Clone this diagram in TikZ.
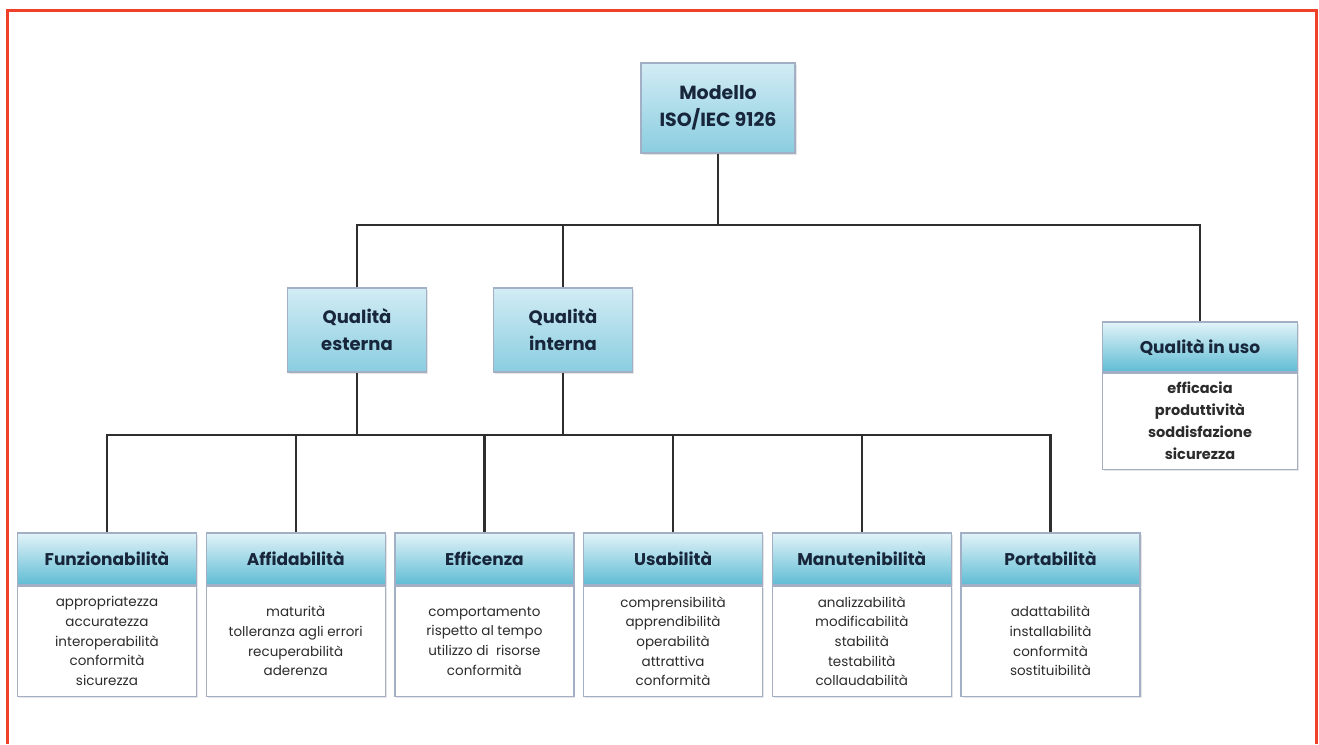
\documentclass[tikz,border=0pt]{standalone}
\usepackage{fontspec}
\setmainfont{Poppins}
\usetikzlibrary{positioning}
\usetikzlibrary{shadows}

\definecolor{frame}{HTML}{F0402A}
\definecolor{boxline}{HTML}{A3AFC4}
\definecolor{headtop}{HTML}{E2F3F8}
\definecolor{headbot}{HTML}{5FBCD4}
\definecolor{roottop}{HTML}{D2ECF4}
\definecolor{rootbot}{HTML}{8ACDE0}
\definecolor{headtxt}{HTML}{17263A}
\definecolor{bodytxt}{HTML}{2C2C2C}
\definecolor{treeline}{HTML}{2E2E2E}

\tikzset{
  boxshadow/.style={drop shadow={opacity=0.2, shadow xshift=1.5pt, shadow yshift=-1.5pt}},
  qbox/.style={draw=boxline, line width=1.2pt, top color=roottop, bottom color=rootbot,
    boxshadow, align=center, inner sep=0pt, text=headtxt,
    font=\bfseries\fontsize{18}{27}\selectfont},
  head/.style={draw=boxline, line width=1.2pt, top color=headtop, bottom color=headbot,
    boxshadow, minimum width=179pt, minimum height=52pt, inner sep=0pt, text=headtxt,
    font=\bfseries\fontsize{17}{20}\selectfont},
  body/.style={draw=boxline, line width=1.2pt, fill=white, boxshadow,
    minimum width=179pt, minimum height=110pt, inner sep=0pt, align=center,
    text=bodytxt, font=\fontsize{13.5}{19.7}\selectfont},
  tree/.style={draw=treeline, line width=2.2pt}
}

\begin{document}
\begin{tikzpicture}[x=1pt, y=-1pt]
    \useasboundingbox[fill=white] (0,0) rectangle (1319,744);
    \draw[frame, line width=3pt] (7,744) -- (7,10) -- (1316,10) -- (1316,744);

    % livelli superiori
    \node[qbox, minimum width=154pt, minimum height=90pt, font=\bfseries\fontsize{19}{27}\selectfont]
          (iso) at (718,108) {Modello\\ISO/IEC 9126};
    \node[qbox, minimum width=139pt, minimum height=84pt] (est) at (357,330) {Qualità\\esterna};
    \node[qbox, minimum width=139pt, minimum height=84pt] (int) at (563,330) {Qualità\\interna};
    \node[head, minimum width=195pt, minimum height=50pt] (uso) at (1200,347) {Qualità in uso};
    \node[body, minimum width=195pt, minimum height=96pt, below=0pt of uso,
          font=\bfseries\fontsize{14.5}{22}\selectfont] (usotxt)
          {efficacia\\produttività\\soddisfazione\\sicurezza};

    % caratteristiche
    \node[head] (fun) at (107,559) {Funzionabilità};
    \node[head] (aff) [right=8.5pt of fun] {Affidabilità};
    \node[head] (eff) [right=8.5pt of aff] {Efficenza};
    \node[head] (usa) [right=8.5pt of eff] {Usabilità};
    \node[head] (man) [right=8.5pt of usa] {Manutenibilità};
    \node[head] (por) [right=8.5pt of man] {Portabilità};

    \node[body] (funtxt) [below=0pt of fun] {appropriatezza\\accuratezza\\interoperabilità\\conformità\\sicurezza};
    \node[body] (afftxt) [below=0pt of aff] {maturità\\tolleranza agli errori\\recuperabilità\\aderenza};
    \node[body] (efftxt) [below=0pt of eff] {comportamento\\rispetto al tempo\\utilizzo di\ \ risorse\\conformità};
    \node[body] (usatxt) [below=0pt of usa] {comprensibilità\\apprendibilità\\operabilità\\attrattiva\\conformità};
    \node[body] (mantxt) [below=0pt of man] {analizzabilità\\modificabilità\\stabilità\\testabilità\\collaudabilità};
    \node[body] (portxt) [below=0pt of por] {adattabilità\\installabilità\\conformità\\sostituibilità};

    % connettori
    \coordinate (bus1) at (718,225);
    \coordinate (bus2) at (357,435);
    \draw[tree] (iso.south) -- (bus1);
    \draw[tree] (est.north) |- (bus1) -| (uso.north);
    \draw[tree] (int.north) -- (int.north |- bus1);
    \draw[tree] (est.south) -- (bus2);
    \draw[tree] (int.south) -- (int.south |- bus2);
    \draw[tree] (fun.north) |- (bus2) -| (por.north);
    \foreach \n in {aff,eff,usa,man}
        \draw[tree] (\n.north) -- (\n.north |- bus2);
\end{tikzpicture}
\end{document}
